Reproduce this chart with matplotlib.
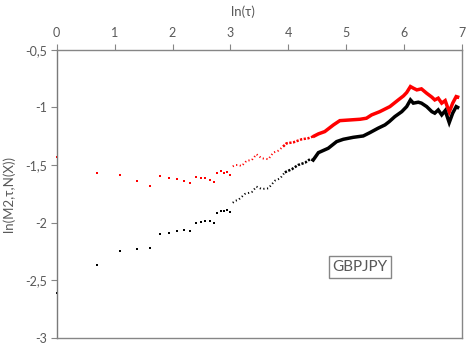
import matplotlib.pyplot as plt
import numpy as np

plt.rcParams['font.family'] = ['Lato', 'DejaVu Sans']

# tau = 1..20 : points well apart
tau_sparse = np.arange(1, 21)
red_sparse = [-1.433, -1.572, -1.587, -1.642, -1.685, -1.598, -1.616, -1.622, -1.636, -1.659,
              -1.601, -1.610, -1.610, -1.628, -1.645, -1.572, -1.552, -1.567, -1.561, -1.584]
black_sparse = [-2.61, -2.367, -2.251, -2.230, -2.219, -2.100, -2.089, -2.071, -2.065, -2.071,
                -2.004, -1.993, -1.984, -1.990, -2.001, -1.917, -1.900, -1.900, -1.888, -1.906]

# tau > 20 : dense cloud, values read along the path (x already ln(tau))
red_x = [3.04, 3.09, 3.135, 3.195, 3.28, 3.37, 3.45, 3.54, 3.655, 3.74, 3.83, 3.91, 3.97,
         4.09, 4.23, 4.345, 4.45, 4.52, 4.63, 4.78, 4.89, 5.065, 5.24, 5.35, 5.44, 5.58,
         5.755, 5.90, 5.99, 6.045, 6.11, 6.16, 6.22, 6.30, 6.39, 6.48, 6.53, 6.59, 6.65,
         6.71, 6.78, 6.84, 6.90, 6.925]
red_y = [-1.512, -1.50, -1.50, -1.509, -1.463, -1.457, -1.407, -1.442, -1.45, -1.393, -1.375,
         -1.34, -1.312, -1.303, -1.277, -1.268, -1.248, -1.23, -1.21, -1.152, -1.115, -1.109,
         -1.103, -1.094, -1.065, -1.037, -0.993, -0.935, -0.90, -0.871, -0.819, -0.833,
         -0.848, -0.839, -0.877, -0.911, -0.935, -0.92, -0.963, -0.941, -1.040, -0.963,
         -0.906, -0.91]
black_x = [3.04, 3.09, 3.135, 3.25, 3.37, 3.45, 3.54, 3.655, 3.77, 3.86, 3.94, 4.06, 4.17,
           4.29, 4.375, 4.43, 4.52, 4.69, 4.835, 4.95, 5.12, 5.295, 5.41, 5.55, 5.67, 5.745,
           5.84, 5.96, 6.045, 6.11, 6.16, 6.245, 6.30, 6.39, 6.48, 6.53, 6.59, 6.65, 6.71,
           6.78, 6.84, 6.90, 6.925]
black_y = [-1.828, -1.81, -1.804, -1.752, -1.735, -1.688, -1.709, -1.703, -1.636, -1.616,
           -1.564, -1.537, -1.50, -1.48, -1.45, -1.457, -1.393, -1.355, -1.297, -1.277, -1.26,
           -1.248, -1.219, -1.181, -1.152, -1.123, -1.08, -1.037, -0.993, -0.935, -0.963,
           -0.955, -0.963, -0.993, -1.037, -1.05, -1.022, -1.065, -1.028, -1.132, -1.05,
           -0.993, -1.0]

x_ticks = [0, 1, 2, 3, 4, 5, 6, 7]
y_ticks = [-0.5, -1, -1.5, -2, -2.5, -3]
y_tick_labels = ['-0,5', '-1', '-1,5', '-2', '-2,5', '-3']
pair = 'GBPJPY'

txt = '#595959'
edge = '#868686'

fig = plt.figure(figsize=(4.69, 3.46), dpi=100)
ax = fig.add_axes([0.121, 0.024, 0.864, 0.832])


def draw(xs, ys, color):
    xs = np.asarray(xs)
    ys = np.asarray(ys)
    # sparse-ish dots first, then denser dots, then the solid band
    ax.plot(xs[xs <= 3.98], ys[xs <= 3.98], color=color, lw=1.4, ls=(0, (0.6, 1.3)))
    sel = (xs >= 3.9) & (xs <= 4.5)
    ax.plot(xs[sel], ys[sel], color=color, lw=1.8, ls=(0, (0.9, 0.6)))
    ax.plot(xs[xs >= 4.43], ys[xs >= 4.43], color=color, lw=2.5, solid_joinstyle='miter')


ax.plot(np.log(tau_sparse), red_sparse, 's', color='#ff0000', ms=2, mew=0, clip_on=False)
ax.plot(np.log(tau_sparse), black_sparse, 's', color='black', ms=2, mew=0, clip_on=False)
draw(red_x, red_y, '#ff0000')
draw(black_x, black_y, 'black')

ax.set_xlim(0, 7)
ax.set_ylim(-3, -0.5)
ax.xaxis.tick_top()
ax.set_xticks(x_ticks)
ax.set_xticklabels([str(v) for v in x_ticks])
ax.set_yticks(y_ticks)
ax.set_yticklabels(y_tick_labels)
ax.tick_params(axis='x', direction='out', length=4, width=0.8, color=edge,
               labelcolor=txt, labelsize=9, pad=4)
ax.tick_params(axis='y', direction='out', length=4, width=0.8, color=edge,
               labelcolor=txt, labelsize=9, pad=3)
for s in ax.spines.values():
    s.set_color(edge)
    s.set_linewidth(1)
ax.spines['left'].set_color('#7a7a7a')

fig.text(243 / 469, 1 - 12 / 346, 'ln(τ)', ha='center', va='center', color=txt, fontsize=9.5)
fig.text(9 / 469, 0.44, 'ln(M2,τ,N(X))', ha='center', va='center', rotation=90,
         color=txt, fontsize=9.5)

ax.text(5.24, -2.387, pair, ha='center', va='center', color=txt, fontsize=11,
        bbox=dict(boxstyle='square,pad=0.25', fc='white', ec=edge, lw=1))

fig.savefig('out.png', dpi=100)
